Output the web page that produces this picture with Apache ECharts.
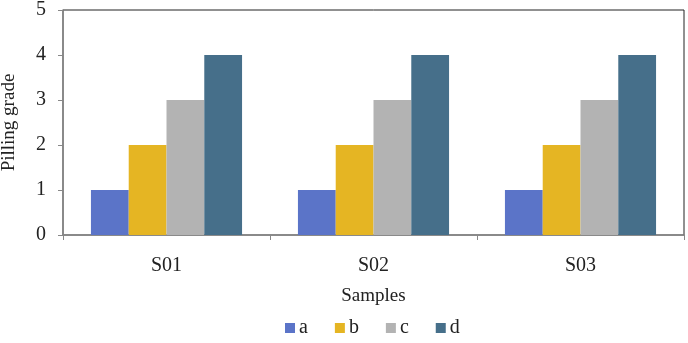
<!DOCTYPE html>
<html>
<head>
<meta charset="utf-8">
<script src="https://cdn.jsdelivr.net/npm/echarts@6/dist/echarts.min.js"></script>
<style>
  html, body { margin: 0; padding: 0; background: #fff; }
  #chart { width: 688px; height: 343px; }
</style>
</head>
<body>
<div id="chart"></div>
<script>
const samples = ['S01', 'S02', 'S03'];
const seriesNames = ['a', 'b', 'c', 'd'];
const valuesA = [1, 1, 1];
const valuesB = [2, 2, 2];
const valuesC = [3, 3, 3];
const valuesD = [4, 4, 4];
const colorList = ['#5b74c8', '#e5b523', '#b3b3b3', '#466f8a'];

const chart = echarts.init(document.getElementById('chart'));
const font = 'Liberation Serif';
const allValues = [valuesA, valuesB, valuesC, valuesD];

const option = {
  backgroundColor: '#fff',
  animation: false,
  textStyle: { fontFamily: font },
  grid: {
    left: 63, right: 4, top: 10, bottom: 108,
    outerBoundsMode: 'none',
    show: true, borderColor: '#222', borderWidth: 1
  },
  legend: {
    bottom: 0,
    left: 280,
    itemWidth: 10,
    itemHeight: 10,
    itemGap: 27,
    icon: 'rect',
    textStyle: { fontFamily: font, fontSize: 20, color: '#222', padding: [0, 0, 0, -1] },
    data: seriesNames
  },
  xAxis: {
    type: 'category',
    data: samples,
    name: 'Samples',
    nameLocation: 'middle',
    nameGap: 52,
    nameTextStyle: { fontFamily: font, fontSize: 19, color: '#222' },
    axisLine: { lineStyle: { color: '#888', width: 1.5 } },
    axisTick: { show: true, length: 5, lineStyle: { color: '#888' } },
    axisLabel: { fontFamily: font, fontSize: 20, color: '#222', margin: 21 }
  },
  yAxis: {
    type: 'value',
    min: 0, max: 5, interval: 1,
    name: 'Pilling grade',
    nameLocation: 'middle',
    nameGap: 44,
    nameTextStyle: { fontFamily: font, fontSize: 19, color: '#222' },
    splitLine: { show: false },
    axisLine: { show: true, lineStyle: { color: '#888', width: 1.5 } },
    axisTick: { show: true, length: 5, lineStyle: { color: '#888' } },
    axisLabel: { fontFamily: font, fontSize: 20, color: '#222', margin: 17 }
  },
  series: seriesNames.map((name, i) => ({
    name: name,
    type: 'bar',
    data: allValues[i],
    barGap: '0%',
    barCategoryGap: '27%',
    itemStyle: { color: colorList[i] }
  }))
};

chart.setOption(option);
</script>
</body>
</html>
